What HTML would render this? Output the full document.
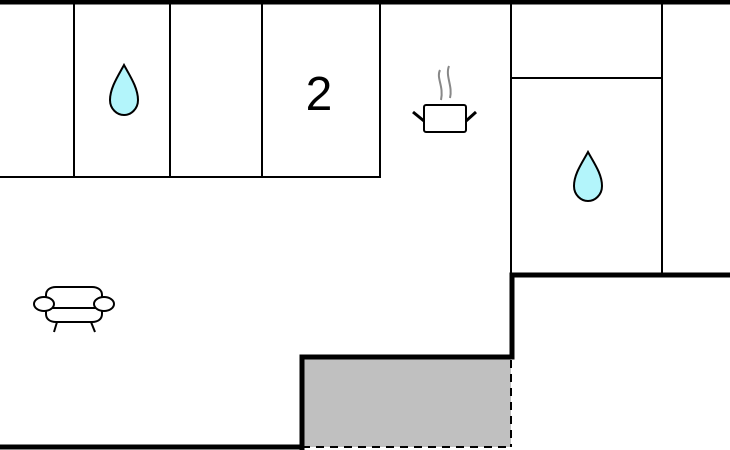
<!DOCTYPE html>
<html><head><meta charset="utf-8"><style>
html,body{margin:0;padding:0;background:#fff;}
svg{display:block;}
</style></head><body>
<svg width="730" height="450" viewBox="0 0 730 450" xmlns="http://www.w3.org/2000/svg">
<rect width="730" height="450" fill="#fff"/>
<rect x="302" y="357" width="209" height="90" fill="#c0c0c0"/>
<g stroke="#000" stroke-width="2" fill="none">
  <line x1="74" y1="3" x2="74" y2="177"/>
  <line x1="170" y1="3" x2="170" y2="177"/>
  <line x1="262" y1="3" x2="262" y2="177"/>
  <line x1="380" y1="3" x2="380" y2="178"/>
  <line x1="0" y1="177" x2="381" y2="177"/>
  <line x1="511" y1="3" x2="511" y2="275"/>
  <line x1="662" y1="3" x2="662" y2="275"/>
  <line x1="511" y1="78" x2="662" y2="78"/>
</g>
<g stroke="#000" stroke-width="2" fill="none" stroke-dasharray="8,6">
  <line x1="511" y1="360" x2="511" y2="447"/>
  <line x1="302" y1="447" x2="511" y2="447"/>
</g>
<g stroke="#000" stroke-width="5" fill="none" stroke-linecap="square">
  <line x1="0" y1="2" x2="730" y2="2"/>
  <polyline points="730,275 512,275 512,357 302,357 302,450"/>
  <line x1="0" y1="447" x2="302" y2="447"/>
</g>
<path d="M124,65 C118,76 110,88 110,100 C110,109 117,115 124,115 C131,115 138,109 138,100 C138,88 130,76 124,65 Z" fill="#b3f5fb" stroke="#000" stroke-width="2"/>
<path d="M588,152 C582,163 574,174 574,186 C574,195 581,201 588,201 C595,201 602,195 602,186 C602,174 594,163 588,152 Z" fill="#b3f5fb" stroke="#000" stroke-width="2"/>
<text x="319" y="110" font-family="Liberation Sans, sans-serif" font-size="48" text-anchor="middle" fill="#000">2</text>
<g stroke="#000" stroke-width="2" fill="#fff">
  <rect x="424" y="105" width="42" height="27" rx="2"/>
  <line x1="413" y1="112" x2="424" y2="121" stroke-width="3"/>
  <line x1="466" y1="121" x2="476" y2="112" stroke-width="3"/>
</g>
<g stroke="#888" stroke-width="2" fill="none">
  <path d="M440,70 C436,78 444,86 441,100"/>
  <path d="M449,66 C445,76 453,86 450,98"/>
</g>
<g stroke="#000" stroke-width="2" fill="#fff">
  <path d="M46,303 L46,295 C46,290 50,287 56,287 L92,287 C98,287 102,290 102,295 L102,303"/>
  <path d="M46,308 L46,314 C46,319 50,322 56,322 L92,322 C98,322 102,319 102,314 L102,308"/>
  <line x1="46" y1="308" x2="102" y2="308"/>
  <ellipse cx="44" cy="304" rx="10" ry="7"/>
  <ellipse cx="104" cy="304" rx="10" ry="7"/>
  <line x1="57" y1="322" x2="54" y2="332"/>
  <line x1="91" y1="322" x2="95" y2="332"/>
</g>
</svg>
</body></html>
